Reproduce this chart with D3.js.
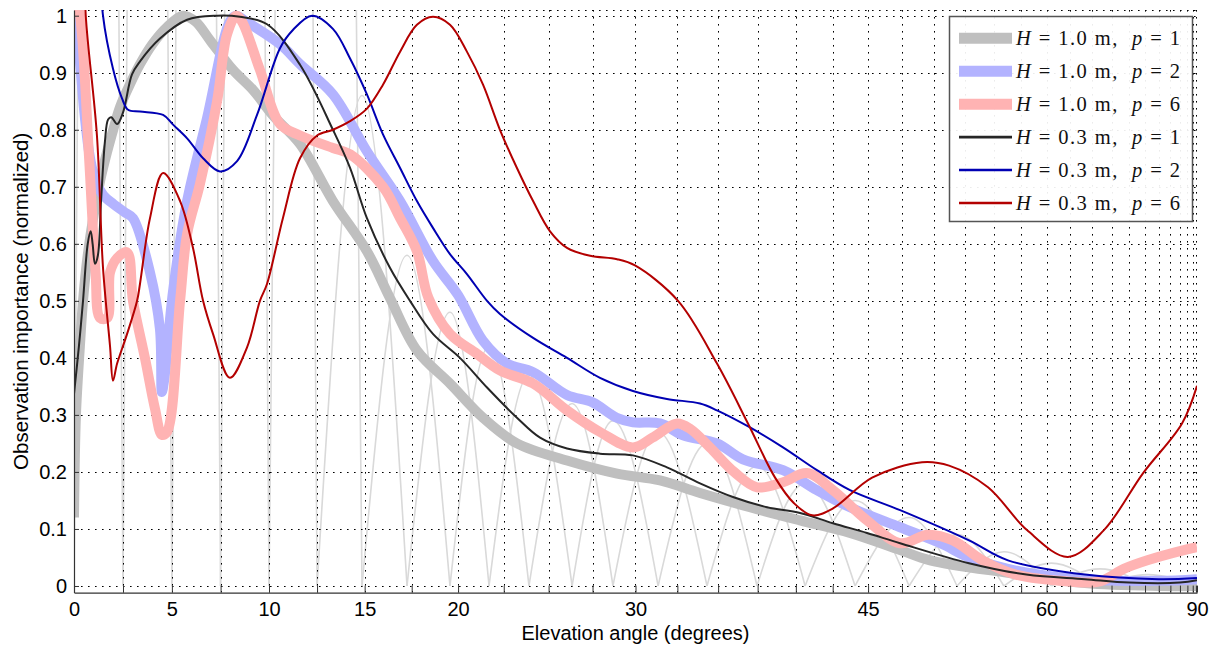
<!DOCTYPE html>
<html><head><meta charset="utf-8">
<script src="https://cdn.jsdelivr.net/npm/d3@7"></script>
<style>
body{margin:0;background:#fff}
svg{display:block}
.tick text,.lab{font-family:"Liberation Sans",Arial,Helvetica,sans-serif}
</style>
</head><body>
<svg id="chart" width="1219" height="651"></svg>
<script>
// ---------------- data ----------------
const xTickValues = d3.range(0, 90.001, 2.5);
const xLabelValues = [0, 5, 10, 15, 20, 30, 45, 60, 90];
const yTickValues = [0, 0.1, 0.2, 0.3, 0.4, 0.5, 0.6, 0.7, 0.8, 0.9, 1];
const xTitle = "Elevation angle (degrees)";
const yTitle = "Observation importance (normalized)";

const legendH = ["1.0", "1.0", "1.0", "0.3", "0.3", "0.3"];
const legendP = ["1", "2", "6", "1", "2", "6"];

// hat (basis) functions: node angles and peak heights
const hatNodes = [-2.5, 0, 2.5, 5, 7.5, 10, 12.5, 14.86, 17.25, 19.56, 21.69, 23.9, 26.33, 28.68, 31.34, 34.31, 37.46, 40.62, 44.07, 48.04, 51.84, 55.9, 60.5, 66, 73, 90];
const hatPeaks = [0, 12, 12, 12, 12, 12, 8, 0.86, 0.58, 0.48, 0.42, 0.37, 0.32, 0.29, 0.27, 0.25, 0.21, 0.18, 0.15, 0.12, 0.09, 0.06, 0.04, 0.03, 0.02, 0];

// H = 1.0 m, p = 1
const sH10p1 = [[0,0.12],[0.1,0.3],[0.3,0.42],[0.46,0.5],[0.7,0.58],[1.0,0.65],[1.33,0.71],[1.68,0.76],[2.0,0.8],[2.35,0.84],[2.86,0.88],[3.37,0.915],[4.0,0.95],[4.75,0.98],[5.57,1.0],[6.2,0.99],[7.0,0.955],[8.14,0.905],[9.17,0.87],[10.21,0.825],[11.61,0.775],[13.33,0.675],[15.12,0.587],[16.34,0.505],[17.78,0.413],[19.56,0.355],[21.36,0.295],[23.23,0.25],[26.04,0.22],[28.92,0.197],[31.46,0.185],[33.88,0.163],[37.01,0.138],[40.28,0.115],[43.71,0.093],[47.36,0.063],[49.67,0.045],[56.27,0.023],[64.19,0.005],[75,0.0],[90,0.0]];
// H = 1.0 m, p = 2
const sH10p2 = [[0,1.03],[0.3,0.92],[0.56,0.82],[0.82,0.75],[1.1,0.71],[1.5,0.685],[2.0,0.67],[2.6,0.655],[3.01,0.645],[3.88,0.55],[4.39,0.45],[4.49,0.34],[4.6,0.36],[5.06,0.517],[5.78,0.675],[6.8,0.82],[7.98,0.99],[8.3,1.0],[8.8,0.99],[10.57,0.95],[11.61,0.915],[13.33,0.862],[15.12,0.762],[16.88,0.675],[18.64,0.57],[20.0,0.51],[21.36,0.43],[22.68,0.39],[24.13,0.375],[26.04,0.335],[27.5,0.322],[28.9,0.295],[29.85,0.287],[31.46,0.285],[32.84,0.264],[34.93,0.25],[36.56,0.222],[39.15,0.203],[41.42,0.168],[43.71,0.138],[47.36,0.103],[50.5,0.075],[52.84,0.05],[56.27,0.03],[60,0.018],[66,0.01],[75,0.009],[90,0.012]];
// H = 1.0 m, p = 6
const sH10p6 = [[0,1.05],[0.31,1.0],[0.77,0.75],[1.1,0.55],[1.33,0.47],[1.7,0.47],[1.84,0.55],[2.2,0.575],[2.71,0.585],[3.01,0.5],[3.62,0.4],[4.14,0.31],[4.49,0.265],[4.75,0.27],[5.42,0.5],[5.78,0.617],[6.44,0.705],[7.32,0.85],[7.83,0.967],[8.3,1.0],[8.6,0.99],[9.53,0.905],[10.57,0.81],[11.61,0.79],[13.33,0.768],[14.23,0.757],[15.97,0.7],[16.88,0.645],[17.78,0.587],[18.4,0.505],[19.56,0.442],[21.03,0.407],[22.29,0.378],[24.13,0.355],[26.04,0.308],[27.93,0.27],[29.85,0.243],[31.0,0.26],[32.48,0.285],[33.3,0.275],[34.49,0.243],[36.0,0.2],[37.46,0.173],[39.15,0.182],[40.75,0.198],[42.52,0.168],[44.92,0.115],[47.36,0.075],[49.5,0.09],[51.5,0.08],[54,0.045],[57,0.02],[62.3,0.008],[66,0.008],[69.2,0.03],[72.9,0.045],[80.6,0.062],[90,0.068]];
// H = 0.3 m, p = 1
const sH03p1 = [[0,0.337],[0.25,0.42],[0.46,0.5],[0.7,0.6],[0.85,0.622],[0.95,0.6],[1.07,0.565],[1.22,0.58],[1.38,0.675],[1.58,0.78],[1.74,0.818],[1.9,0.822],[2.2,0.81],[2.5,0.83],[2.96,0.897],[3.37,0.92],[4.39,0.96],[5.78,0.993],[7.32,1.0],[8.5,0.998],[9.9,0.985],[11.61,0.914],[13.33,0.8],[14.23,0.733],[15.12,0.645],[16.34,0.558],[17.41,0.5],[18.64,0.442],[20.1,0.4],[21.58,0.348],[23.23,0.295],[24.52,0.26],[26.04,0.241],[27.93,0.232],[29.85,0.229],[31.87,0.208],[33.88,0.18],[35.93,0.156],[38.1,0.138],[40.28,0.128],[42.52,0.11],[44.92,0.093],[47.36,0.075],[52.84,0.04],[58,0.02],[64.19,0.012],[70,0.006],[80,0.006],[90,0.01]];
// H = 0.3 m, p = 2
const sH03p2 = [[1.3,1.12],[1.48,1.0],[1.99,0.907],[2.45,0.855],[2.76,0.835],[3.37,0.832],[4.55,0.826],[5.06,0.809],[5.78,0.785],[6.6,0.75],[7.47,0.727],[8.35,0.745],[9.38,0.826],[10.57,0.943],[11.24,0.975],[12.24,1.0],[13.33,0.977],[14.23,0.925],[15.12,0.862],[15.97,0.792],[16.88,0.733],[17.78,0.675],[18.64,0.628],[19.56,0.582],[20.48,0.547],[21.58,0.5],[22.29,0.477],[24.13,0.435],[26.04,0.4],[27.93,0.365],[29.85,0.342],[31.87,0.328],[33.88,0.32],[34.93,0.308],[37.01,0.278],[39.15,0.243],[41.42,0.203],[43.71,0.168],[47.36,0.133],[52.84,0.08],[56.27,0.045],[64.19,0.02],[75,0.012],[90,0.014]];
// H = 0.3 m, p = 6
const sH03p6 = [[0.5,1.12],[0.6,1.0],[1.17,0.79],[1.48,0.558],[1.84,0.42],[1.99,0.36],[2.2,0.39],[2.71,0.442],[3.22,0.5],[3.37,0.53],[3.88,0.645],[4.55,0.724],[5.42,0.675],[6.08,0.593],[6.6,0.5],[7.11,0.442],[7.98,0.365],[8.86,0.418],[9.53,0.5],[9.9,0.53],[10.72,0.645],[11.61,0.75],[12.5,0.79],[13.33,0.8],[14.23,0.815],[15.12,0.837],[15.97,0.879],[16.88,0.937],[17.78,0.984],[18.64,0.998],[19.56,0.984],[20.48,0.937],[21.36,0.879],[22.29,0.8],[23.23,0.733],[24.13,0.675],[25.08,0.622],[26.04,0.593],[27.36,0.579],[28.92,0.573],[29.97,0.562],[32.54,0.5],[34.93,0.39],[36.88,0.285],[38.63,0.19],[39.88,0.145],[41.1,0.124],[42.52,0.136],[45.29,0.19],[49.04,0.217],[51.19,0.211],[54.48,0.173],[58.06,0.098],[62.26,0.051],[66.51,0.098],[72.18,0.198],[80.63,0.285],[90,0.351]];

const seriesData = [sH10p1, sH10p2, sH10p6, sH03p1, sH03p2, sH03p6];
const seriesColors = ["#bfbfbf", "#b3b3ff", "#ffb3b3", "#262626", "#0000b3", "#b30000"];
const seriesWidths = [10, 10, 10, 2, 2, 2];

// ---------------- layout ----------------
const L = 74, R = 1197, T = 10, B = 592.6;
function makeSinScale(range) {
  const lin = d3.scaleLinear().domain([0, 1]).range(range);
  const s = d => lin(Math.sin(d * Math.PI / 180));
  s.domain = () => [0, 90];
  s.range = () => lin.range();
  s.copy = () => makeSinScale(range);
  return s;
}
const x = makeSinScale([L, R]);
const y = d3.scaleLinear().domain([-0.0116, 1.010]).range([B, T]);

const svg = d3.select("#chart");
svg.append("rect").attr("width", 1219).attr("height", 651).attr("fill", "#fff");
svg.append("defs").append("clipPath").attr("id", "plotclip")
  .append("rect").attr("x", L).attr("y", T).attr("width", R - L).attr("height", B - T);

const plot = svg.append("g").attr("clip-path", "url(#plotclip)");

// hats: tall ones straight, low ones with rounded tops
const hatLineStraight = d3.line().x(d => x(d[0])).y(d => y(d[1]));
const hatLineRound = d3.line().x(d => x(d[0])).y(d => y(d[1])).curve(d3.curveMonotoneX);
const hats = [];
for (let i = 1; i < hatNodes.length - 1; i++) {
  hats.push([[hatNodes[i-1], 0], [hatNodes[i], hatPeaks[i]], [hatNodes[i+1], 0]]);
}
plot.append("g").selectAll("path").data(hats).join("path")
  .attr("d", d => d[1][1] > 1 ? hatLineStraight(d) : hatLineRound(d))
  .attr("fill", "none").attr("stroke", "#d9d9d9").attr("stroke-width", 1.6);

// grid (dotted)
const grid = plot.append("g").attr("stroke", "#000").attr("stroke-width", 1)
  .attr("stroke-dasharray", "1.6,5.4");
grid.selectAll("line.v").data(xTickValues).join("line").attr("class", "v")
  .attr("x1", d => Math.round(x(d)) + 0.5).attr("x2", d => Math.round(x(d)) + 0.5).attr("y1", B).attr("y2", T);
grid.selectAll("line.h").data(yTickValues.concat([1.010])).join("line").attr("class", "h")
  .attr("y1", d => Math.round(y(d)) + 0.5).attr("y2", d => Math.round(y(d)) + 0.5).attr("x1", L).attr("x2", R);

// series
const line = d3.line().x(d => x(d[0])).y(d => y(d[1])).curve(d3.curveCatmullRom.alpha(0.5));
plot.append("g").selectAll("path").data(seriesData).join("path")
  .attr("d", line).attr("fill", "none")
  .attr("stroke", (d, i) => seriesColors[i])
  .attr("stroke-width", (d, i) => seriesWidths[i])
  .attr("stroke-linejoin", "round");

// axes
const xAxis = d3.axisBottom(x).tickValues(xTickValues)
  .tickFormat(d => xLabelValues.includes(d) ? String(d) : "")
  .tickSizeInner(-7).tickSizeOuter(0).tickPadding(9);
const gx = svg.append("g").attr("transform", `translate(0,${B})`).call(xAxis);
const yAxis = d3.axisLeft(y).tickValues(yTickValues)
  .tickFormat(d => d === 0 ? "0" : d === 1 ? "1" : d.toFixed(1))
  .tickSizeInner(-5).tickSizeOuter(0).tickPadding(7);
const gy = svg.append("g").attr("transform", `translate(${L},0)`).call(yAxis);
[gx, gy].forEach(g => {
  g.select(".domain").attr("stroke", "#333").attr("stroke-width", 1.2);
  g.selectAll(".tick line").attr("stroke", "#333");
  g.selectAll(".tick text").attr("font-size", 20).attr("fill", "#000");
});

svg.append("text").attr("class", "lab").attr("x", (L + R) / 2).attr("y", 640)
  .attr("text-anchor", "middle").attr("font-size", 20).text(xTitle);
svg.append("text").attr("class", "lab").attr("transform", `translate(28,${(T + B) / 2}) rotate(-90)`)
  .attr("text-anchor", "middle").attr("font-size", 20.5).text(yTitle);

// legend
const lg = svg.append("g");
lg.append("rect").attr("x", 949.5).attr("y", 16.5).attr("width", 243).attr("height", 205)
  .attr("fill", "#fff").attr("fill-opacity", 0.92).attr("stroke", "#555").attr("stroke-width", 1.5);
const rowY = d3.scaleLinear().domain([0, 5]).range([38.3, 203]);
seriesData.forEach((d, i) => {
  const yy = rowY(i);
  lg.append("line").attr("x1", 959).attr("x2", 1012).attr("y1", yy).attr("y2", yy)
    .attr("stroke", seriesColors[i]).attr("stroke-width", seriesWidths[i] === 10 ? 11 : 2.6);
  const t = lg.append("text").attr("x", 1016).attr("y", yy + 6.5)
    .attr("font-family", "'Liberation Serif','DejaVu Serif',serif").attr("font-size", 20.5)
    .attr("fill", "#111").style("white-space", "pre")
    .attr("textLength", 164).attr("lengthAdjust", "spacing");
  t.append("tspan").attr("font-style", "italic").text("H");
  t.append("tspan").text(" = " + legendH[i] + " m,  ");
  t.append("tspan").attr("font-style", "italic").text("p");
  t.append("tspan").text(" = " + legendP[i]);
});
</script>
</body></html>
